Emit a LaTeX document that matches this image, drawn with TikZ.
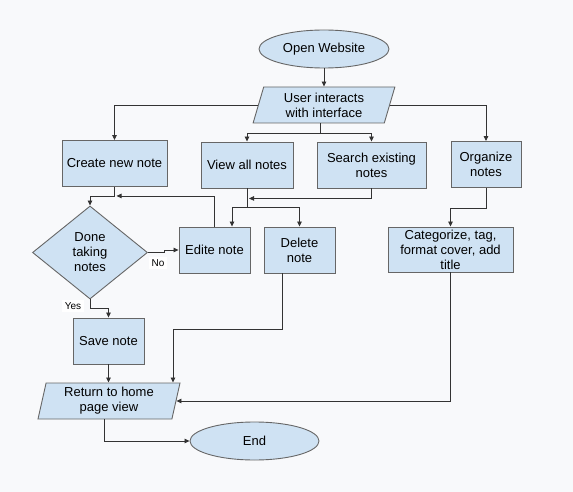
\documentclass[tikz,border=0pt]{standalone}
\usepackage{fontspec}
\setmainfont{Liberation Sans}
\usetikzlibrary{shapes.geometric,arrows.meta}
\definecolor{bg}{HTML}{F8F9FB}
\definecolor{boxfill}{HTML}{CFE2F3}
\definecolor{boxline}{HTML}{666666}
\definecolor{wire}{HTML}{333333}
\tikzset{
  base/.style={draw=boxline,fill=boxfill,line width=0.9pt,align=center,inner sep=0pt,
    font=\fontsize{13}{15}\selectfont},
  procbox/.style={base,rectangle,minimum width=#1,minimum height=46pt},
  termin/.style={base,ellipse,minimum width=130pt,minimum height=38pt},
  iobox/.style={base,trapezium,trapezium stretches=true,trapezium left angle=#1,
    trapezium right angle=180-#1,minimum width=142pt,minimum height=36pt},
  decision/.style={base,diamond,aspect=1.237,minimum width=115pt,minimum height=93pt},
  wire/.style={draw=wire,line width=0.8pt},
  arr/.style={wire,-{Triangle[length=5pt,width=4.5pt]}},
  lbl/.style={fill=white,inner sep=3pt,font=\fontsize{10}{12}\selectfont}
}
\begin{document}
\begin{tikzpicture}[x=1pt,y=-1pt]
\fill[bg] (0,0) rectangle (573,492);
\useasboundingbox (0,0) rectangle (573,492);

\node[termin] (open) at (324,49) {Open Website};
\node[iobox=74] (user) at (324,105) {User interacts\\with interface};
\node[procbox=105pt] (create) at (114.5,163.5) {Create new note};
\node[procbox=92pt] (view) at (247,165) {View all notes};
\node[procbox=109pt] (search) at (371.5,165) {Search existing\\notes};
\node[procbox=70pt] (org) at (486,164.5) {Organize\\notes};
\node[decision] (done) at (90,252.5) {Done\\taking\\notes};
\node[procbox=71pt] (edit) at (214.5,250) {Edite note};
\node[procbox=71pt] (del) at (299.5,250) {Delete\\note};
\node[procbox=125pt,minimum height=45pt] (cat) at (450.5,249.5) {Categorize, tag,\\format cover, add\\title};
\node[procbox=71pt] (save) at (108.5,341) {Save note};
\node[iobox=78] (ret) at (109,401) {Return to home\\page view};
\node[termin,minimum width=129pt] (end) at (254.5,441) {End};

\draw[arr] (open.south) -- (open.south |- user.north);
\draw[arr] (user.west) -| (create.north);
\draw[arr] (user.east) -| (org.north);
\draw[wire] ([xshift=-4]user.south) -- ++(0,10) coordinate (ub);
\draw[arr] (ub) -| (view.north);
\draw[arr] (ub) -| (search.north);

\draw[wire] (create.south) -- ++(0,9) coordinate (cj);
\draw[arr] (cj) -| (done.north);
\draw[arr] (edit.north) |- ([xshift=2]cj);

\draw[arr] (done.east) -- ++(16,0) |- (edit.west);
\node[lbl] (no) at (158,263) {No};

\draw[wire] (view.south) -- ++(0,19) coordinate (vj);
\draw[arr] (vj) -| ([xshift=17.5]edit.north);
\draw[arr] (vj) -| (del.north);
\path (view.south) ++(0,10) coordinate (vs);
\draw[arr] (search.south) |- ([xshift=2]vs);

\draw[arr] (org.south) -- ++(0,20) -| (cat.north);

\draw[arr] (done.south) -- ++(0,9) -| (save.north);
\node[lbl] (yes) at (73,306) {Yes};

\draw[arr] (save.south) -- (save.south |- ret.north);
\draw[arr] ([xshift=-17.5]del.south) -- ++(0,56) -| ([xshift=64]ret.north);
\draw[arr] (cat.south) |- (ret.east);
\draw[arr] ([xshift=-5]ret.south) |- (end.west);
\end{tikzpicture}
\end{document}
